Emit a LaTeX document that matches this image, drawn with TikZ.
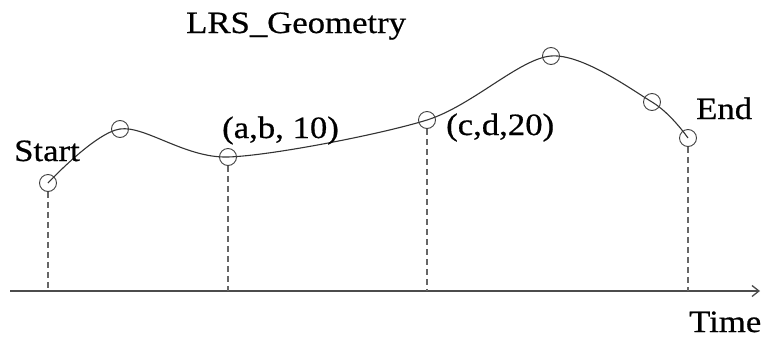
\documentclass[tikz,border=0pt]{standalone}
\usepackage{fontspec}
\setmainfont[FakeStretch=1.12,FakeBold=0.6]{Liberation Serif}
\usetikzlibrary{arrows.meta}
\begin{document}
\begin{tikzpicture}[x=1pt,y=-1pt,
  pt/.style={circle,draw=black!75,line width=0.9pt,minimum size=17pt,inner sep=0pt},
  lbl/.style={anchor=base west,inner sep=0pt,font=\fontsize{31}{34}\selectfont},
  drop/.style={draw=black!60,line width=1.1pt,dash pattern=on 6pt off 4pt},
  curve/.style={draw=black!80,line width=1.1pt}]
\useasboundingbox (0,0) rectangle (766,338);
\coordinate (p1) at (48,183);
\coordinate (p2) at (120,129);
\coordinate (p3) at (228,157);
\coordinate (p4) at (427,120);
\coordinate (p5) at (551,56);
\coordinate (p6) at (652,102);
\coordinate (p7) at (688,138);
\draw[curve] plot[smooth,tension=0.5] coordinates {(p1) (p2) (p3) (p4) (p5) (p6) (p7)};
\node[pt] (c1) at (p1) {};
\node[pt] (c2) at (p2) {};
\node[pt] (c3) at (p3) {};
\node[pt] (c4) at (p4) {};
\node[pt] (c5) at (p5) {};
\node[pt] (c6) at (p6) {};
\node[pt] (c7) at (p7) {};
\coordinate (a0) at (10,291);
\coordinate (a1) at (760,291);
\draw[draw=black!70,line width=1.3pt,-{Straight Barb[length=7pt,width=11pt]}] (a0) -- (a1);
\coordinate (d1) at (48,291);
\coordinate (d3) at (228,291);
\coordinate (d4) at (427,291);
\coordinate (d7) at (688,291);
\draw[drop] (c1.south) -- (d1);
\draw[drop] (c3.south) -- (d3);
\draw[drop] (c4.south) -- (d4);
\draw[drop] (c7.south) -- (d7);
\node[lbl] (title) at (186,33) {LRS\_Geometry};
\node[lbl] (start) at (14,161) {Start};
\node[lbl] (ab) at (222,138) {(a,b, 10)};
\node[lbl] (cd) at (446,135) {(c,d,20)};
\node[lbl] (end) at (696,119) {End};
\node[lbl] (time) at (689,332) {Time};
\end{tikzpicture}
\end{document}
